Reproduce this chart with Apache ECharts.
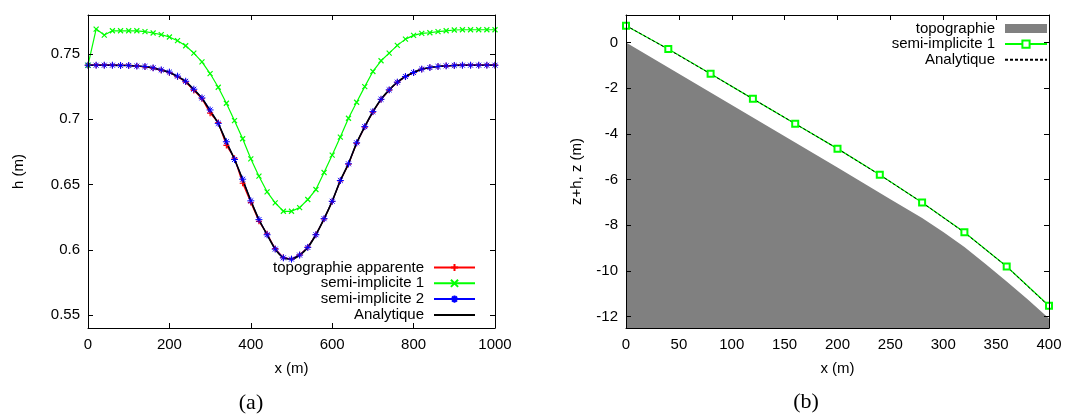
<!DOCTYPE html>
<html><head><meta charset="utf-8">
<script src="https://cdn.jsdelivr.net/npm/echarts@6/dist/echarts.min.js"></script>
<style>html,body{margin:0;padding:0;background:#fff}#c{width:1082px;height:414px}</style>
</head><body><div id="c"></div>
<script>
// ---------- Chart (a) ----------
const xA = [0,20,40,60,80,100,120,140,160,180,200,220,240,260,280,300,320,340,360,380,400,420,440,460,480,500,520,540,560,580,600,620,640,660,680,700,720,740,760,780,800,820,840,860,880,900,920,940,960,980,1000];
const topoApparente = [0.7415,0.7415,0.7415,0.7415,0.7413,0.7413,0.7408,0.7403,0.7393,0.7377,0.7358,0.7326,0.7286,0.7222,0.7158,0.7047,0.6975,0.6800,0.6702,0.6510,0.6362,0.6218,0.6122,0.6008,0.5940,0.5929,0.5961,0.6020,0.6117,0.6236,0.6370,0.6528,0.6656,0.6816,0.6941,0.7056,0.7152,0.7224,0.7283,0.7327,0.7358,0.7384,0.7397,0.7405,0.7410,0.7413,0.7415,0.7415,0.7415,0.7415,0.7415];
const semiImp1A = [0.7415,0.7692,0.7646,0.7679,0.7679,0.7679,0.7679,0.7672,0.7662,0.7649,0.7631,0.7603,0.7564,0.7508,0.7441,0.7351,0.7246,0.7123,0.6990,0.6851,0.6697,0.6564,0.6444,0.6359,0.6295,0.6295,0.6323,0.6385,0.6462,0.6592,0.6726,0.6864,0.7008,0.7131,0.7251,0.7367,0.7449,0.7508,0.7567,0.7615,0.7644,0.7659,0.7664,0.7672,0.7679,0.7685,0.7687,0.7687,0.7687,0.7687,0.7687];
const semiImp2A = [0.7415,0.7415,0.7415,0.7415,0.7413,0.7413,0.7408,0.7405,0.7395,0.7379,0.7362,0.7331,0.7292,0.7231,0.7164,0.7072,0.6969,0.6828,0.6692,0.6541,0.6375,0.6231,0.6115,0.6005,0.5938,0.5928,0.5959,0.6018,0.6115,0.6238,0.6372,0.6531,0.6659,0.6820,0.6944,0.7059,0.7154,0.7226,0.7285,0.7328,0.7359,0.7385,0.7397,0.7405,0.7410,0.7413,0.7415,0.7415,0.7415,0.7415,0.7415];
const analytiqueA = [0.7415,0.7415,0.7415,0.7415,0.7413,0.7413,0.7408,0.7404,0.7394,0.7378,0.7360,0.7329,0.7290,0.7228,0.7162,0.7065,0.6968,0.6825,0.6694,0.6538,0.6377,0.6232,0.6116,0.6005,0.5938,0.5929,0.5958,0.6017,0.6115,0.6236,0.6373,0.6530,0.6660,0.6818,0.6945,0.7058,0.7154,0.7226,0.7285,0.7328,0.7359,0.7385,0.7397,0.7405,0.7410,0.7413,0.7415,0.7415,0.7415,0.7415,0.7415];
const yTicksA = [0.55,0.6,0.65,0.7,0.75];

// ---------- Chart (b) ----------
const xTopo = [0,50,100,150,200,250,280,300,320,340,360,380,400];
const zTopo = [0,-1.37,-2.74,-4.11,-5.48,-6.87,-7.69,-8.30,-8.95,-9.70,-10.47,-11.25,-12.08];
const xB = [0,40,80,120,160,200,240,280,320,360,400];
const semiImp1B = [0.73,-0.29,-1.37,-2.47,-3.56,-4.65,-5.79,-7.01,-8.31,-9.81,-11.53];
const analytiqueB = [0.74,-0.30,-1.38,-2.47,-3.56,-4.65,-5.80,-7.01,-8.32,-9.81,-11.55];
const yTicksB = [-12,-10,-8,-6,-4,-2,0];

const pairs = (xs, ys) => xs.map((x, i) => [x, ys[i]]);
const FONT = 'Liberation Sans';
const txt = {fontSize: 15, color: '#000', fontFamily: FONT};
const PLUS = 'path://M0,5L10,5M5,0L5,10';
const CROSS = 'path://M0,0L10,10M10,0L0,10';
const STAR = 'path://M0,5L10,5M5,0L5,10M1.5,1.5L8.5,8.5M8.5,1.5L1.5,8.5';
const plainNum = v => String(v);

function xAx(grid, min, max, interval, pos, opts) {
  return Object.assign({
    type: 'value', gridIndex: grid, min, max, interval, position: pos, z: 5,
    axisLine: {show: true, onZero: false, lineStyle: {color: '#000', width: 1}},
    axisTick: {show: true, inside: true, length: 5, lineStyle: {color: '#000'}},
    axisLabel: Object.assign({show: pos === 'bottom', margin: 9, formatter: plainNum}, txt),
    splitLine: {show: false}
  }, opts || {});
}
function yAx(grid, min, max, ticks, pos, opts) {
  return Object.assign({
    type: 'value', gridIndex: grid, min, max, position: pos, z: 5,
    axisLine: {show: true, onZero: false, lineStyle: {color: '#000', width: 1}},
    axisTick: {show: true, inside: true, length: 5, customValues: ticks, lineStyle: {color: '#000'}},
    axisLabel: Object.assign({show: pos === 'left', margin: 8, customValues: ticks, formatter: plainNum}, txt),
    splitLine: {show: false}
  }, opts || {});
}

const chart = echarts.init(document.getElementById('c'), null, {renderer: 'canvas'});
chart.setOption({
  animation: false,
  backgroundColor: '#fff',
  grid: [
    {left: 88, top: 15, width: 407, height: 313},
    {left: 626, top: 15, width: 423, height: 313}
  ],
  xAxis: [
    xAx(0, 0, 1000, 200, 'bottom', {name: 'x (m)', nameLocation: 'middle', nameGap: 33, nameTextStyle: txt}),
    xAx(0, 0, 1000, 200, 'top'),
    xAx(1, 0, 400, 50, 'bottom', {name: 'x (m)', nameLocation: 'middle', nameGap: 33, nameTextStyle: txt,
      axisTick: {show: false}}),
    xAx(1, 0, 400, 50, 'top')
  ],
  yAxis: [
    yAx(0, 0.54, 0.78, yTicksA, 'left', {name: 'h (m)', nameLocation: 'middle', nameGap: 62, nameTextStyle: txt}),
    yAx(0, 0.54, 0.78, yTicksA, 'right'),
    yAx(1, -12.5, 1.2, yTicksB, 'left', {name: 'z+h, z (m)', nameLocation: 'middle', nameGap: 42, nameTextStyle: txt}),
    yAx(1, -12.5, 1.2, yTicksB, 'right')
  ],
  legend: [
    {
      orient: 'vertical', align: 'right', right: 606, top: 260, padding: 0,
      itemWidth: 41, itemHeight: 9, itemGap: 0.8,
      textStyle: Object.assign({padding: [0, 5, 0, 0]}, txt),
      data: ['topographie apparente', 'semi-implicite 1', 'semi-implicite 2', 'Analytique']
    },
    {
      orient: 'vertical', align: 'right', right: 34, top: 21, padding: 0,
      itemWidth: 42, itemHeight: 9, itemGap: 0.6,
      textStyle: Object.assign({padding: [0, 5, 0, 0]}, txt),
      formatter: n => n.replace(' (b)', ''),
      data: [{name: 'topographie', icon: 'rect'}, 'semi-implicite 1 (b)', 'Analytique (b)']
    }
  ],
  series: [
    {name: 'topographie apparente', type: 'line', xAxisIndex: 0, yAxisIndex: 0,
     data: pairs(xA, topoApparente), symbol: PLUS, symbolSize: 6,
     lineStyle: {color: '#ff0000', width: 1.2},
     itemStyle: {color: '#ff0000', borderColor: '#ff0000', borderWidth: 1.2}},
    {name: 'semi-implicite 1', type: 'line', xAxisIndex: 0, yAxisIndex: 0,
     data: pairs(xA, semiImp1A), symbol: CROSS, symbolSize: 5,
     lineStyle: {color: '#00ff00', width: 1.2},
     itemStyle: {color: '#00ff00', borderColor: '#00ff00', borderWidth: 1.2}},
    {name: 'semi-implicite 2', type: 'line', xAxisIndex: 0, yAxisIndex: 0,
     data: pairs(xA, semiImp2A), symbol: STAR, symbolSize: 7,
     lineStyle: {color: '#0000ff', width: 1.2},
     itemStyle: {color: '#0000ff', borderColor: '#0000ff', borderWidth: 1}},
    {name: 'Analytique', type: 'line', xAxisIndex: 0, yAxisIndex: 0, smooth: 0.3,
     data: pairs(xA, analytiqueA), symbol: 'none',
     lineStyle: {color: '#000', width: 1.6}, itemStyle: {color: 'rgba(0,0,0,0)'}},

    {name: 'topographie', type: 'line', xAxisIndex: 2, yAxisIndex: 2,
     data: pairs(xTopo, zTopo), symbol: 'none',
     lineStyle: {width: 0, color: '#808080'}, itemStyle: {color: '#808080'},
     areaStyle: {color: '#808080', opacity: 1, origin: 'start'}},
    {name: 'semi-implicite 1 (b)', type: 'line', xAxisIndex: 2, yAxisIndex: 2,
     data: pairs(xB, semiImp1B), symbol: 'emptyRect', symbolSize: 6,
     lineStyle: {color: '#00ff00', width: 1.3},
     itemStyle: {color: '#00ff00', borderWidth: 1.2}},
    {name: 'Analytique (b)', type: 'line', xAxisIndex: 2, yAxisIndex: 2,
     data: pairs(xB, analytiqueB), symbol: 'none',
     lineStyle: {color: '#000', width: 1, type: [3, 2]}, itemStyle: {color: 'rgba(0,0,0,0)'}}
  ],
  graphic: [
    {type: 'text', x: 251, y: 403, style: {text: '(a)', font: '22px "Liberation Serif"', fill: '#000', align: 'center', verticalAlign: 'middle'}},
    {type: 'text', x: 806, y: 402, style: {text: '(b)', font: '22px "Liberation Serif"', fill: '#000', align: 'center', verticalAlign: 'middle'}}
  ]
});
</script></body></html>
